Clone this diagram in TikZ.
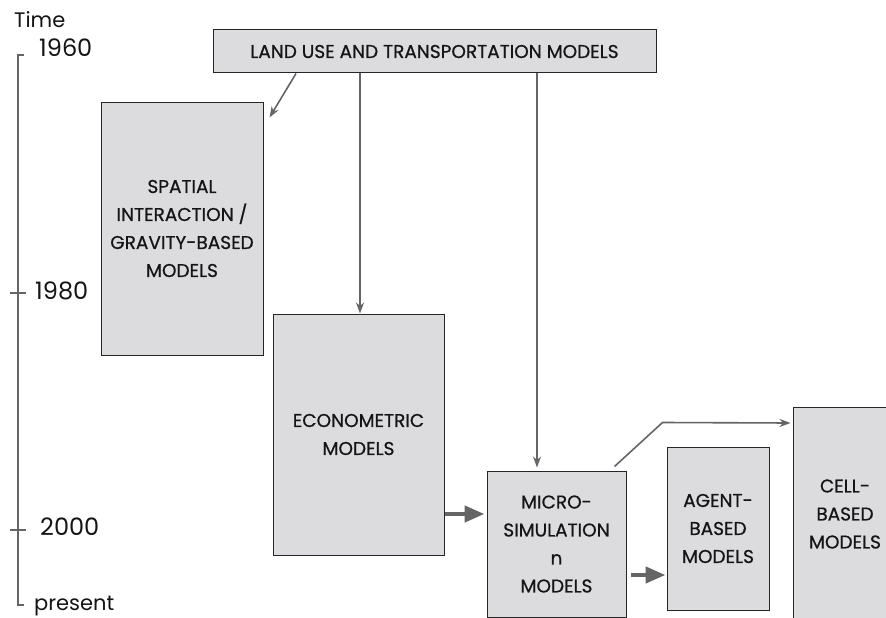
\documentclass[tikz,border=0pt]{standalone}
\usepackage{fontspec}
\setmainfont{Poppins}
\newfontfamily\boxfont{Poppins}[FakeBold=0.7]
\usetikzlibrary{arrows.meta,calc}
\definecolor{boxfill}{HTML}{DCDCDE}
\definecolor{linegray}{HTML}{656565}
\definecolor{txt}{HTML}{151515}
\tikzset{
  box/.style={draw=black!85, line width=1pt, fill=boxfill, text=txt, align=center,
    inner sep=0pt, font=\boxfont\fontsize{18.5}{28}\selectfont},
  thin/.style={draw=linegray, line width=1.6pt, -{Stealth[length=11pt,width=8pt]}},
  thick/.style={draw=linegray, line width=4.5pt, -{Triangle[length=20pt,width=16pt]}},
  axis/.style={draw=linegray, line width=2.6pt},
  yearlab/.style={text=txt, font=\fontsize{24}{24}\selectfont, anchor=west, inner sep=0pt}
}
\begin{document}
\begin{tikzpicture}[x=1pt,y=-1pt]
\clip (0,0) rectangle (886,618);
\fill[white] (0,0) rectangle (886,618);

% boxes
\node[box, minimum width=443pt, minimum height=43pt] (top) at (434.5,51.5) {LAND USE AND TRANSPORTATION MODELS};
\node[box, minimum width=162pt, minimum height=253pt] (spatial) at (182,228.5) {SPATIAL\\INTERACTION /\\GRAVITY-BASED\\MODELS};
\node[box, minimum width=171pt, minimum height=241pt] (econ) at (358.5,434.5) {ECONOMETRIC\\MODELS};
\node[box, minimum width=139pt, minimum height=146pt] (micro) at (556.5,544) {MICRO-\\SIMULATION\\n\\MODELS};
\node[box, minimum width=102pt, minimum height=163pt] (agent) at (718,528.5) {AGENT-\\BASED\\MODELS};
\node[box, minimum width=104pt, minimum height=214pt] (cell) at (845,514) {CELL-\\BASED\\MODELS};

% connectors
\draw[thin] (top.south -| 296,0) -- ($(spatial.north east)+(6,16)$);
\draw[thin] (top.south -| 360,0) -- (econ.north -| 360,0);
\draw[thin] (top.south -| 537,0) -- ($(micro.north -| 537,0)+(0,-3)$);
\draw[thin] ($(micro.north east)+(-12,-4)$) -- ($(micro.north east)+(36,-48)$) -- ($(cell.west |- 0,423)+(-2,0)$);
\draw[thick] (econ.east |- 0,514) -- ($(micro.west |- 0,514)+(-2,0)$);
\draw[thick] ($(micro.east |- 0,575)+(4,0)$) -- ($(agent.west |- 0,575)+(-1,0)$);

% timeline
\coordinate (tA) at (18,55);
\coordinate (tB) at (18,293);
\coordinate (tC) at (18,530);
\coordinate (tD) at (18,605);
\draw[axis] (tA) -- (tD);
\draw[axis] ($(tA)+(-1.3,0)$) -- ++(7,0);
\draw[axis] ($(tB)+(-8,0)$) -- ++(16,0);
\draw[axis] ($(tC)+(-8,0)$) -- ++(16,0);
\draw[axis] ($(tD)+(-1.3,0)$) -- ++(7,0);
\node[text=txt, font=\fontsize{21}{21}\selectfont, anchor=west, inner sep=0pt] (time) at (14,20) {Time};
\node[yearlab] (y1960) at (39,48) {1960};
\node[yearlab] (y1980) at (35,291) {1980};
\node[yearlab] (y2000) at (40,527) {2000};
\node[text=txt, font=\fontsize{21}{21}\selectfont, anchor=west, inner sep=0pt] (pres) at (34,606) {present};
\end{tikzpicture}
\end{document}
